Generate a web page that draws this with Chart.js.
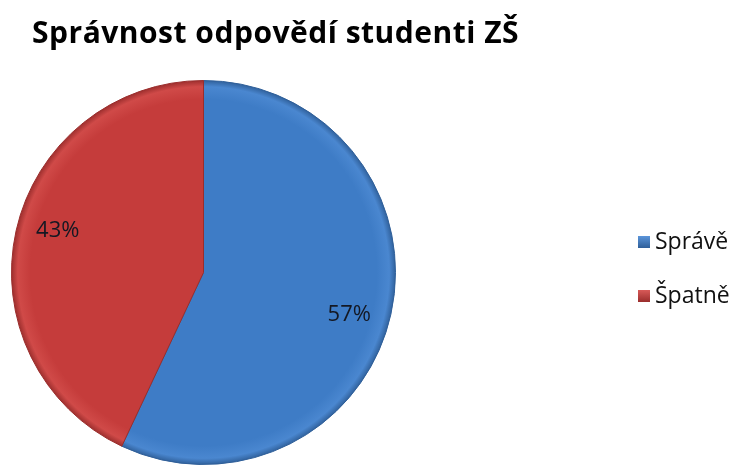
<!DOCTYPE html>
<html>
<head>
<meta charset="utf-8">
<title>Správnost odpovědí studenti ZŠ</title>
<script src="https://cdn.jsdelivr.net/npm/chart.js"></script>
<style>
    html, body { margin: 0; padding: 0; background: #fff; }
    #wrap { width: 735px; height: 465px; }
</style>
</head>
<body>
<div id="wrap"><canvas id="pieChart" width="735" height="465"></canvas></div>
<script>
const chartTitle = 'Správnost odpovědí studenti ZŠ';
const categories = ['Správě', 'Špatně'];
const percentages = [57, 43];
const sliceColors = ['#3e7cc6', '#c53c3b'];
const edgeColors = ['#2f5f99', '#9a2d2c'];

const FONT = '"Open Sans", "Noto Sans", sans-serif';

// radial shading per slice, lighter rim just inside a dark edge
function sliceFill(context) {
    const chart = context.chart;
    const area = chart.chartArea;
    const i = context.dataIndex;
    if (!area) return sliceColors[i];
    const cx = (area.left + area.right) / 2;
    const cy = (area.top + area.bottom) / 2;
    const r = Math.min(area.right - area.left, area.bottom - area.top) / 2;
    const g = chart.ctx.createRadialGradient(cx, cy, 0, cx, cy, r);
    g.addColorStop(0, sliceColors[i]);
    g.addColorStop(0.9, sliceColors[i]);
    g.addColorStop(0.965, i === 0 ? '#4a87d0' : '#d04a48');
    g.addColorStop(1, edgeColors[i]);
    return g;
}

const decorPlugin = {
    id: 'decor',
    afterDraw(chart, args, opts) {
        const ctx = chart.ctx;
        ctx.save();

        // title
        ctx.fillStyle = '#000';
        ctx.font = 'bold 30px ' + FONT;
        ctx.letterSpacing = '0.5px';
        ctx.textBaseline = 'alphabetic';
        ctx.textAlign = 'left';
        ctx.fillText(chartTitle, 32, 43);
        ctx.letterSpacing = '0px';

        // percentage labels inside the slices (nudged a little clockwise)
        const meta = chart.getDatasetMeta(0);
        ctx.font = '22px ' + FONT;
        ctx.textAlign = 'center';
        ctx.textBaseline = 'middle';
        ctx.fillStyle = '#141823';
        meta.data.forEach((arc, i) => {
            const p = arc.getProps(['x', 'y', 'startAngle', 'endAngle', 'outerRadius'], true);
            const mid = (p.startAngle + p.endAngle) / 2 + opts.labelTurn;
            const d = p.outerRadius * 0.79;
            ctx.fillText(percentages[i] + '%', p.x + Math.cos(mid) * d, p.y + Math.sin(mid) * d);
        });

        // legend
        ctx.font = '23px ' + FONT;
        ctx.textAlign = 'left';
        ctx.textBaseline = 'middle';
        categories.forEach((name, i) => {
            const y = 242 + i * 54;
            const g = ctx.createLinearGradient(0, y - 6, 0, y + 6);
            g.addColorStop(0, i === 0 ? '#5b95da' : '#d85a58');
            g.addColorStop(1, edgeColors[i]);
            ctx.fillStyle = g;
            ctx.fillRect(638, y - 6, 12, 12);
            ctx.fillStyle = '#111';
            ctx.fillText(name, 655, y);
        });

        ctx.restore();
    }
};

new Chart(document.getElementById('pieChart'), {
    type: 'pie',
    data: {
        labels: categories,
        datasets: [{
            data: percentages,
            backgroundColor: sliceFill,
            borderColor: edgeColors,
            borderWidth: 1
        }]
    },
    options: {
        responsive: false,
        animation: false,
        layout: { padding: { left: 11, right: 339, top: 80, bottom: 0 } },
        plugins: {
            legend: { display: false },
            tooltip: { enabled: false },
            decor: { labelTurn: 3.5 * Math.PI / 180 }
        }
    },
    plugins: [decorPlugin]
});
</script>
</body>
</html>
